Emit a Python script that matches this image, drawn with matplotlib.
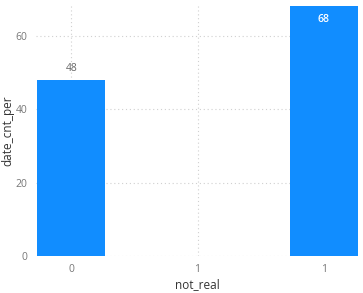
import numpy as np
import matplotlib
matplotlib.use("Agg")
import matplotlib.pyplot as plt

categories = ["0", "1", "1"]
values = [48, np.nan, 68]

plt.rcParams['font.family'] = ['Open Sans', 'DejaVu Sans']

fig = plt.figure(figsize=(3.63, 2.93), dpi=100)
ax = fig.add_axes([36 / 363, 37 / 293, 323 / 363, 251 / 293])

x = np.arange(len(categories))
bar_color = "#118DFF"
ax.bar(x, values, width=0.54, color=bar_color, zorder=2)

ax.set_xlim(-0.28, 2.28)
ax.set_ylim(0, 68.4)
ax.set_yticks([0, 20, 40, 60])
ax.set_xticks(x)
ax.set_xticklabels(categories)

ax.grid(True, color="#d0d0d0", linestyle=(0, (1, 2.5)), linewidth=0.8, zorder=0)
for s in ax.spines.values():
    s.set_visible(False)
ax.tick_params(length=0, labelsize=7.5, colors="#777777", pad=6)

for xi, v in zip(x, values):
    if np.isnan(v):
        continue
    if v > 60:
        ax.text(xi, v - 2, f"{v:.0f}", ha="center", va="top", fontsize=7.5,
                color="white", fontweight="semibold")
    else:
        ax.text(xi, v + 1.5, f"{v:.0f}", ha="center", va="bottom", fontsize=7.5,
                color="#666666")

ax.set_xlabel("not_real", fontsize=8.5, color="#333333", labelpad=2)
ax.set_ylabel("date_cnt_per", fontsize=8.5, color="#333333")
ax.yaxis.set_label_coords(-0.068, 0.5)

fig.savefig("out.png", dpi=100)
